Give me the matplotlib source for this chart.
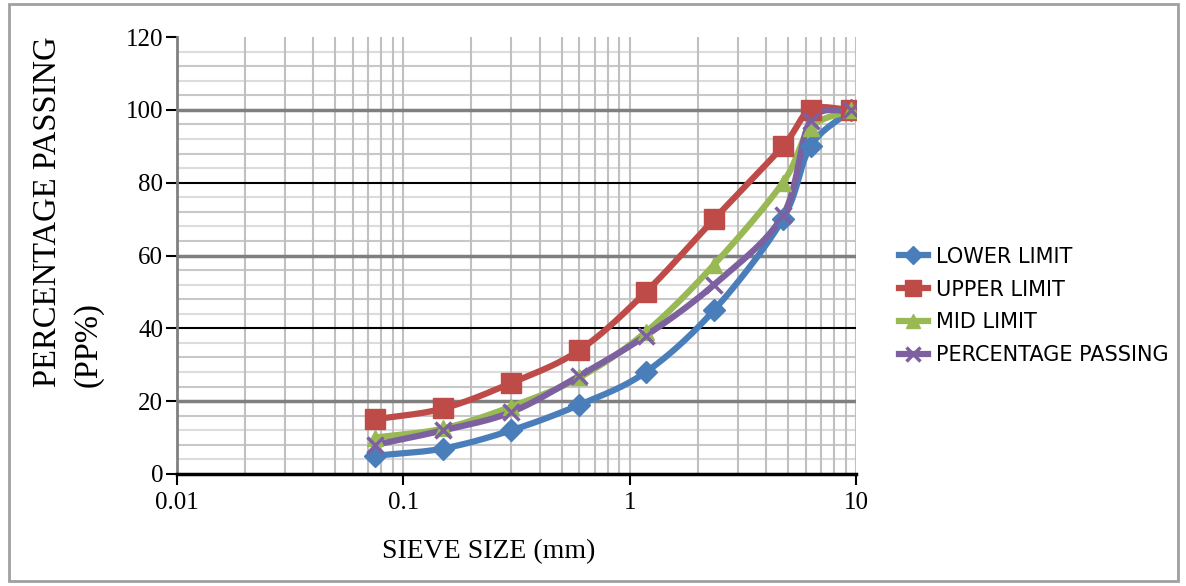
import numpy as np
import matplotlib
matplotlib.use("Agg")
import matplotlib.pyplot as plt
from matplotlib.lines import Line2D
from matplotlib.patches import Rectangle

sieve = [0.075, 0.15, 0.3, 0.6, 1.18, 2.36, 4.75, 6.3, 9.5]
lower = [5, 7, 12, 19, 28, 45, 70, 90, 100]
upper = [15, 18, 25, 34, 50, 70, 90, 100, 100]
mid = [10, 12.5, 18.5, 26.5, 39, 57.5, 80, 95, 100]
passing = [8, 12, 17, 27, 38, 52, 71, 97, 100]
labels = ["LOWER LIMIT", "UPPER LIMIT", "MID LIMIT", "PERCENTAGE PASSING"]
colors = ["#4a7ebb", "#be4b48", "#98b954", "#7d60a0"]
markers = ["D", "s", "^", "x"]
xticks = [0.01, 0.1, 1, 10]
xticklabels = ["0.01", "0.1", "1", "10"]


def smooth(xs, ys, n=30):
    lx = np.log10(xs)
    ys = np.asarray(ys, float)
    px = np.concatenate([[2 * lx[0] - lx[1]], lx, [2 * lx[-1] - lx[-2]]])
    py = np.concatenate([[2 * ys[0] - ys[1]], ys, [2 * ys[-1] - ys[-2]]])
    ox, oy = [], []
    for i in range(1, len(px) - 2):
        t = np.linspace(0, 1, n, endpoint=False)
        for arr, out in ((px, ox), (py, oy)):
            p0, p1, p2, p3 = arr[i - 1], arr[i], arr[i + 1], arr[i + 2]
            out.extend(0.5 * ((2 * p1) + (-p0 + p2) * t +
                              (2 * p0 - 5 * p1 + 4 * p2 - p3) * t ** 2 +
                              (-p0 + 3 * p1 - 3 * p2 + p3) * t ** 3))
    ox.append(lx[-1]); oy.append(ys[-1])
    return 10 ** np.array(ox), np.array(oy)


fig = plt.figure(figsize=(11.86, 5.86), dpi=100)
fig.patches.append(Rectangle((0.008, 0.008), 0.985, 0.985, transform=fig.transFigure,
                             fill=False, edgecolor="#a0a0a0", linewidth=2))
ax = fig.add_axes([177 / 1186, 1 - 474 / 586, (856 - 177) / 1186, (474 - 37) / 586])
ax.set_xscale("log")
ax.set_xlim(0.01, 10)
ax.set_ylim(0, 120)

# grid
for v in np.arange(4, 120, 4):
    if v % 20 == 0:
        continue
    c = "#c8c8c8" if (v // 4) % 2 == 0 else "#dcdcdc"
    ax.axhline(v, color=c, lw=1.5, zorder=0)
for v in [20, 60, 100]:
    ax.axhline(v, color="#7f7f7f", lw=2.5, zorder=0.5)
for v in [40, 80]:
    ax.axhline(v, color="black", lw=1.5, zorder=0.5)
for dec in [0.01, 0.1, 1]:
    for k in range(1, 10):
        ax.axvline(dec * k, color="#c0c0c0", lw=1.5, zorder=0)
ax.axvline(10, color="#c0c0c0", lw=1.5, zorder=0)

series = [lower, upper, mid, passing]
ms = [11, 15, 12, 12]
handles = []
for ys, c, m, lab, s in zip(series, colors, markers, labels, ms):
    sx, sy = smooth(sieve, ys)
    ax.plot(sx, sy, color=c, lw=4.5, zorder=3, solid_capstyle="round")
    ax.plot(sieve, ys, linestyle="none", marker=m, color=c, markersize=s,
            markeredgewidth=2.5 if m == "x" else 1, zorder=4)
    handles.append(Line2D([], [], color=c, lw=4.5, marker=m, markersize=s * 0.8,
                          markeredgewidth=2.5 if m == "x" else 1))

ax.set_xticks(xticks)
ax.set_xticklabels(xticklabels)
ax.xaxis.set_minor_locator(matplotlib.ticker.NullLocator())
ax.set_yticks(np.arange(0, 121, 20))
for lab in ax.get_xticklabels() + ax.get_yticklabels():
    lab.set_fontfamily("Liberation Serif")
    lab.set_fontsize(18)
ax.tick_params(axis="both", direction="out", length=8, width=1.5, color="black")
ax.tick_params(axis="x", pad=5)
ax.tick_params(axis="y", pad=2)
for side in ["top", "right"]:
    ax.spines[side].set_visible(False)
ax.spines["bottom"].set_linewidth(2.5)
ax.spines["left"].set_color("#808080")
ax.spines["left"].set_linewidth(2)

ax.set_xlabel("SIEVE SIZE (mm)", fontfamily="Liberation Serif", fontsize=20)
ax.xaxis.set_label_coords((489 - 177) / 679, -0.178)
ax.xaxis.label.set_va("center")
fig.text(48 / 1186, 1 - 387 / 586, "PERCENTAGE PASSING", rotation=90, ha="center", va="bottom",
         fontfamily="Liberation Serif", fontsize=23.5)
fig.text(88 / 1186, 1 - 387 / 586, "(PP%)", rotation=90, ha="center", va="bottom",
         fontfamily="Liberation Serif", fontsize=23.5)

fig.legend(handles, labels, loc="upper left", bbox_to_anchor=(884 / 1186, 1 - 232 / 586),
           frameon=False, prop={"family": "DejaVu Sans", "size": 15}, handlelength=1.4,
           handletextpad=0.4, labelspacing=0.62, borderpad=0.2)

fig.savefig("out.png", dpi=100)
